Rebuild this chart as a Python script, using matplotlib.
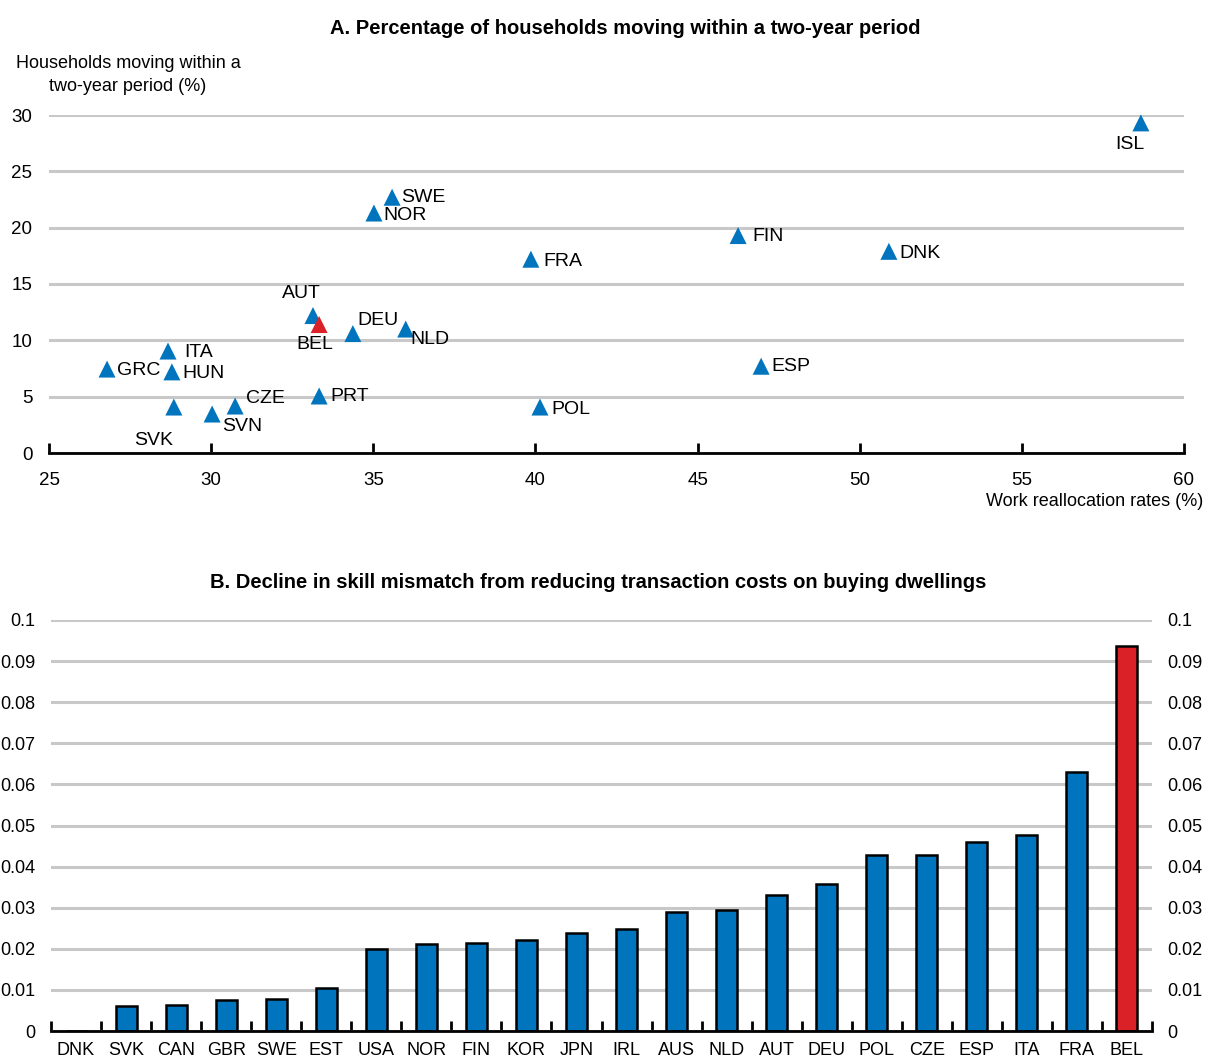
import matplotlib
matplotlib.use("Agg")
import matplotlib.pyplot as plt
from matplotlib.ticker import MultipleLocator, FixedLocator, FuncFormatter

plt.rcParams['font.family'] = ['Liberation Sans', 'DejaVu Sans']

# ---------------- Data ----------------
# Panel A
scatter_countries = ["ISL", "SWE", "NOR", "FIN", "DNK", "FRA", "AUT", "BEL", "DEU", "NLD",
                     "ITA", "GRC", "HUN", "ESP", "PRT", "CZE", "SVK", "SVN", "POL"]
work_reallocation = [58.67, 35.58, 35.02, 46.25, 50.9, 39.86, 33.14, 33.33, 34.37, 36.0,
                     28.67, 26.79, 28.79, 46.96, 33.33, 30.74, 28.85, 30.03, 40.14]
households_moving = [29.3, 22.7, 21.3, 19.3, 17.9, 17.2, 12.2, 11.4, 10.6, 11.0,
                     9.05, 7.45, 7.2, 7.7, 5.06, 4.17, 4.08, 3.46, 4.08]
highlight_scatter = "BEL"

# Panel B
bar_countries = ["DNK", "SVK", "CAN", "GBR", "SWE", "EST", "USA", "NOR", "FIN", "KOR", "JPN",
                 "IRL", "AUS", "NLD", "AUT", "DEU", "POL", "CZE", "ESP", "ITA", "FRA", "BEL"]
skill_mismatch_decline = [0.0, 0.0061, 0.0063, 0.0075, 0.0078, 0.0105, 0.0200, 0.0212, 0.0214,
                          0.0221, 0.0238, 0.0248, 0.0290, 0.0294, 0.0331, 0.0358, 0.0428,
                          0.0428, 0.0460, 0.0477, 0.0630, 0.0937]
highlight_bar = "BEL"

# ---------------- Styles ----------------
BLUE = "#0075BE"
RED = "#DA2128"
GRID = "#C8C8C8"
FS = 13.5      # tick / axis text
FS_LAB = 14    # country labels in scatter
FS_T = 14.5    # titles

# label offsets (pixels) and horizontal alignment for panel A
label_pos = {
    "ISL": (-11, -22, "center"), "SWE": (9, 0, "left"), "NOR": (9, -2, "left"),
    "FIN": (14, -1, "left"), "DNK": (10, -2, "left"), "FRA": (12, -2, "left"),
    "AUT": (-12, 22, "center"), "BEL": (-4, -20, "center"), "DEU": (5, 13, "left"),
    "NLD": (5, -10, "left"), "ITA": (16, -1, "left"), "GRC": (10, -1, "left"),
    "HUN": (10, -2, "left"), "ESP": (10, 0, "left"), "PRT": (11, -1, "left"),
    "CZE": (11, 8, "left"), "SVK": (-20, -33, "center"), "SVN": (10, -12, "left"),
    "POL": (11, -2, "left"),
}

W, H = 1205, 1057
fig = plt.figure(figsize=(W / 100, H / 100), dpi=100)

# ---------------- Panel A ----------------
axA = fig.add_axes([49 / W, 1 - 453 / H, (1184 - 49) / W, (453 - 115) / H])
axA.set_xlim(25, 60)
axA.set_ylim(0, 30)
axA.xaxis.set_major_locator(MultipleLocator(5))
axA.yaxis.set_major_locator(MultipleLocator(5))
axA.grid(axis='y', color=GRID, linewidth=2.2, zorder=0)
axA.set_axisbelow(True)
for s in ["top", "right", "left"]:
    axA.spines[s].set_visible(False)
axA.spines["bottom"].set_linewidth(2)
axA.spines["bottom"].set_zorder(3)
axA.tick_params(axis='x', direction='in', length=7, width=2, labelsize=FS, pad=14)
axA.tick_params(axis='y', length=0, labelsize=FS, pad=12)

colorsA = [RED if c == highlight_scatter else BLUE for c in scatter_countries]
axA.scatter(work_reallocation, households_moving, marker='^', s=150, c=colorsA,
            edgecolors='none', zorder=4, clip_on=False)
for c, x, y in zip(scatter_countries, work_reallocation, households_moving):
    dx, dy, ha = label_pos[c]
    axA.annotate(c, (x, y), xytext=(dx, dy), textcoords='offset pixels',
                 ha=ha, va='center', fontsize=FS_LAB, zorder=5)

fig.text(625 / W, 1 - 28 / H, "A. Percentage of households moving within a two-year period",
         ha='center', va='center', fontsize=FS_T, fontweight='bold')
fig.text(128 / W, 1 - 75 / H, "Households moving within a\ntwo-year period (%)",
         ha='center', va='center', fontsize=13, linespacing=1.4)
fig.text(1203 / W, 1 - 502 / H, "Work reallocation rates (%)",
         ha='right', va='center', fontsize=13)

# ---------------- Panel B ----------------
axB = fig.add_axes([51 / W, 1 - 1031 / H, (1152 - 51) / W, (1031 - 620) / H])
n = len(bar_countries)
pos = list(range(n))
colorsB = [RED if c == highlight_bar else BLUE for c in bar_countries]
axB.bar(pos, skill_mismatch_decline, width=0.42, color=colorsB, edgecolor='black',
        linewidth=1.8, zorder=3)
axB.set_xlim(-0.5, n - 0.5)
axB.set_ylim(0, 0.1)
axB.yaxis.set_major_locator(MultipleLocator(0.01))
axB.grid(axis='y', color=GRID, linewidth=2.2, zorder=0)
axB.set_axisbelow(True)
for s in ["top", "right", "left"]:
    axB.spines[s].set_visible(False)
axB.spines["bottom"].set_linewidth(2)
axB.spines["bottom"].set_zorder(4)
axB.xaxis.set_major_locator(FixedLocator(pos))
axB.set_xticklabels(bar_countries)
axB.xaxis.set_minor_locator(FixedLocator([p + 0.5 for p in range(-1, n)]))
axB.tick_params(axis='x', which='major', length=0, labelsize=13, pad=8)
axB.tick_params(axis='x', which='minor', direction='in', length=7, width=2)
axB.tick_params(axis='y', length=0, labelsize=13, left=True, right=True,
                labelleft=True, labelright=True, pad=11)
for lab in axB.get_yticklabels(which='major'):
    pass
axB.yaxis.set_major_formatter(FuncFormatter(
    lambda v, p: "0" if abs(v) < 1e-9 else ("%.2f" % v).rstrip('0')))
axB.yaxis.set_tick_params(which='major', pad=11)
for t in axB.yaxis.get_major_ticks():
    t.label2.set_x(1.0)
axB.tick_params(axis='y', which='major', pad=11)

fig.text(598 / W, 1 - 583 / H,
         "B. Decline in skill mismatch from reducing transaction costs on buying dwellings",
         ha='center', va='center', fontsize=FS_T, fontweight='bold')

fig.savefig("out.png", dpi=100)
